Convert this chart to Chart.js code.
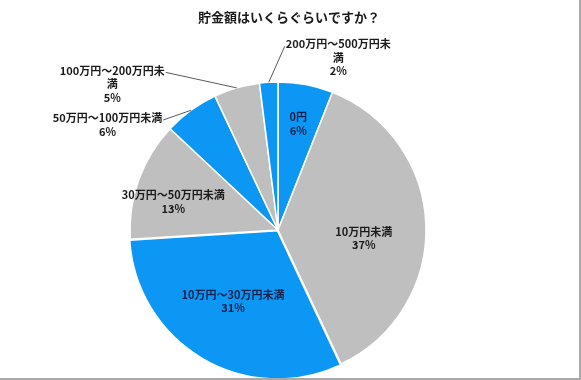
<!DOCTYPE html>
<html>
<head>
<meta charset="utf-8">
<script src="https://cdn.jsdelivr.net/npm/chart.js@4"></script>
<style>
  html, body { margin: 0; padding: 0; background: #fff; }
  #frame { width: 579px; height: 378px; border-right: 2px solid #a9a9a9; border-bottom: 2px solid #a9a9a9; background: #fff; }
  canvas { display: block; }
</style>
</head>
<body>
<div id="frame"><canvas id="c" width="579" height="378"></canvas></div>
<script>
// ---- data ----
const chartTitle = '貯金額はいくらぐらいですか？';
const categories = ['0円', '10万円未満', '10万円～30万円未満', '30万円～50万円未満', '50万円～100万円未満', '100万円～200万円未満', '200万円～500万円未満'];
const shares = [6, 37, 31, 13, 6, 5, 2];

// ---- styling ----
const BLUE = '#0b97f3';
const GRAY = '#bfbfbf';
const sliceColors = [BLUE, GRAY, BLUE, GRAY, BLUE, GRAY, BLUE];
const sliceOffsets = [0, 0, 4, 0, 0, 0, 0];
const LABEL_FONT = 'bold 11px "Noto Sans CJK JP", "Noto Sans", sans-serif';
const LINE_H = 13.5;

// label placement: inside labels at a fraction of the radius along the slice mid-angle (+ small nudge);
// outside labels placed relative to the slice's outer edge with a leader line.
const labelPlacement = {
  0: { inside: true, f: 0.73, dx: 0, dy: 0, color: '#14204a' },
  1: { inside: true, f: 0.58, dx: 0, dy: 11, color: '#1a1a1a' },
  2: { inside: true, f: 0.57, dx: 0, dy: -4.5, color: '#14204a' },
  3: { inside: true, f: 0.73, dx: -3, dy: 8.5, color: '#1a1a1a' },
  4: { inside: false, dx: -83.5, dy: 14.5, color: '#1a1a1a' },
  5: { inside: false, dx: -124.5, dy: -4, color: '#1a1a1a' },
  6: { inside: false, dx: 69.5, dy: -24.5, color: '#1a1a1a' }
};
const WRAP_WIDTH = 111;

function wrapText(ctx, text, maxW) {
  const lines = [];
  let cur = '';
  for (const ch of text) {
    if (cur && ctx.measureText(cur + ch).width > maxW) { lines.push(cur); cur = ch; }
    else cur += ch;
  }
  if (cur) lines.push(cur);
  return lines;
}

const labelPlugin = {
  id: 'sliceLabels',
  afterDatasetsDraw(chart) {
    const ctx = chart.ctx;
    const meta = chart.getDatasetMeta(0);
    ctx.save();
    ctx.font = LABEL_FONT;
    ctx.textAlign = 'center';
    ctx.textBaseline = 'middle';
    meta.data.forEach((arc, i) => {
      const p = arc.getProps(['x', 'y', 'startAngle', 'endAngle', 'outerRadius'], true);
      const mid = (p.startAngle + p.endAngle) / 2;
      const off = sliceOffsets[i] || 0;
      const cx = p.x + Math.cos(mid) * off;
      const cy = p.y + Math.sin(mid) * off;
      const cfg = labelPlacement[i];
      let lines;
      let bx, by;
      if (cfg.inside) {
        lines = [categories[i], shares[i] + '%'];
        bx = cx + Math.cos(mid) * p.outerRadius * cfg.f + cfg.dx;
        by = cy + Math.sin(mid) * p.outerRadius * cfg.f + cfg.dy;
      } else {
        lines = wrapText(ctx, categories[i], WRAP_WIDTH).concat([shares[i] + '%']);
        const ax = cx + Math.cos(mid) * p.outerRadius;
        const ay = cy + Math.sin(mid) * p.outerRadius;
        bx = ax + cfg.dx;
        by = ay + cfg.dy;
        const y1 = by - (lines.length - 1) * LINE_H / 2;
        const w1 = ctx.measureText(lines[0]).width;
        const ex = ax > bx ? bx + w1 / 2 + 1 : bx - w1 / 2 - 1;
        const ey = y1 + 2;
        ctx.strokeStyle = '#595959';
        ctx.lineWidth = 1;
        ctx.beginPath();
        ctx.moveTo(ex, ey);
        ctx.lineTo(ax, ay);
        ctx.stroke();
      }
      ctx.fillStyle = cfg.color;
      const top = by - (lines.length - 1) * LINE_H / 2;
      lines.forEach((ln, k) => ctx.fillText(ln, bx, top + k * LINE_H));
    });
    // title
    ctx.font = 'bold 13px "Noto Sans CJK JP", "Noto Sans", sans-serif';
    ctx.fillStyle = '#1a1a1a';
    ctx.fillText(chartTitle, 289, 17);
    ctx.restore();
  }
};

new Chart(document.getElementById('c'), {
  type: 'pie',
  data: {
    labels: categories,
    datasets: [{
      data: shares,
      backgroundColor: sliceColors,
      borderColor: '#ffffff',
      borderWidth: 1.5,
      offset: sliceOffsets
    }]
  },
  options: {
    responsive: false,
    animation: false,
    radius: 148,
    layout: { padding: { left: 130, right: 153, top: 82, bottom: 0 } },
    plugins: {
      legend: { display: false },
      title: { display: false },
      tooltip: { enabled: false }
    }
  },
  plugins: [labelPlugin]
});
</script>
</body>
</html>
